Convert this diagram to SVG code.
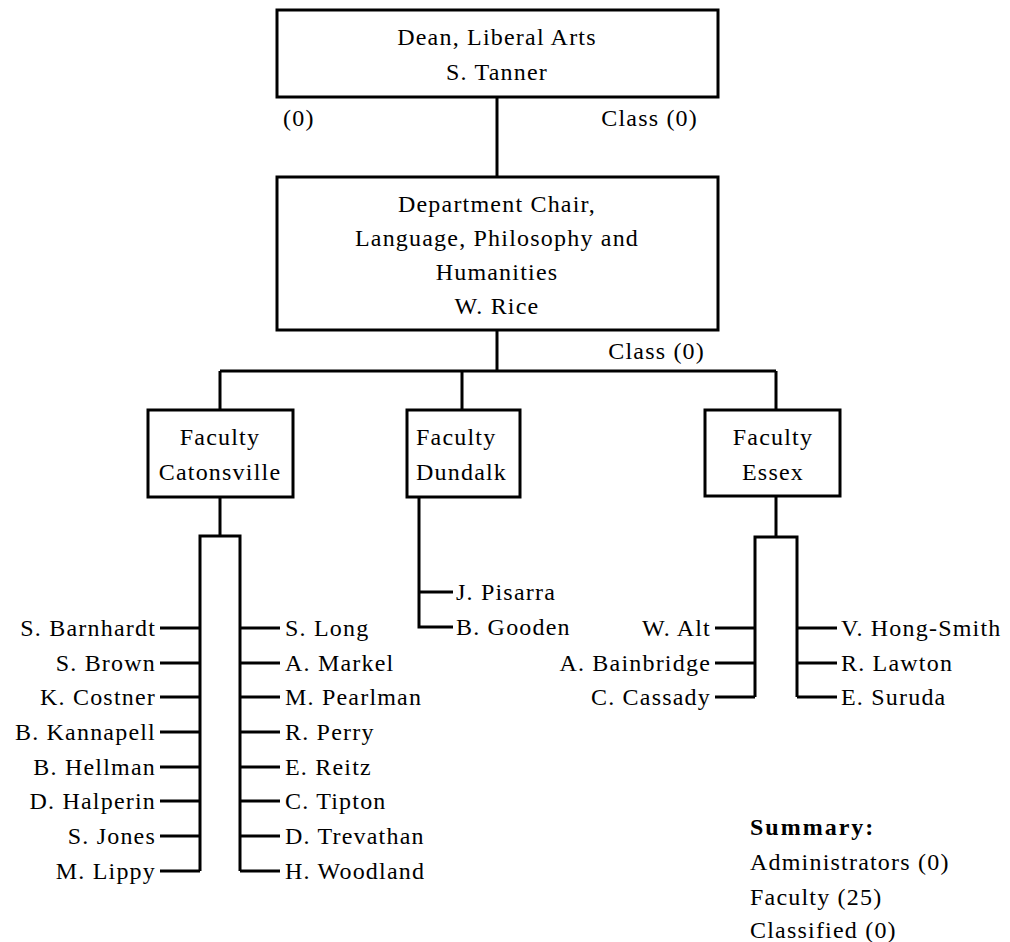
<svg xmlns="http://www.w3.org/2000/svg" width="1010" height="942" viewBox="0 0 1010 942" font-family="Liberation Serif" font-size="24">
<style>
text{font-family:"Liberation Serif",serif;font-size:24px;letter-spacing:1.2px;fill:#000}
.c{text-anchor:middle}
.r{text-anchor:end}
.box{fill:#fff;stroke:#000;stroke-width:3}
.ln{fill:none;stroke:#000;stroke-width:3}
.b{font-weight:bold;letter-spacing:2px}
</style>
<rect width="1010" height="942" fill="#fff"/>
<g id="connectors">
<path class="ln" d="M497,97V177"/>
<path class="ln" d="M497,330V371M220,371H776M220,371V410M462,371V410M776,371V410"/>
<path class="ln" d="M220,497V536M200,871V536H240V871"/>
<path class="ln" d="M160,628H200M160,663H200M160,697H200M160,732H200M160,767H200M160,801H200M160,836H200M160,871H200"/>
<path class="ln" d="M240,628H280M240,663H280M240,697H280M240,732H280M240,767H280M240,801H280M240,836H280M240,871H280"/>
<path class="ln" d="M419,497V627H453M419,592H453"/>
<path class="ln" d="M776,496V537M755,697V537H797V697"/>
<path class="ln" d="M715,628H755M715,663H755M715,697H755M797,628H837M797,663H837M797,697H837"/>
</g>
<g id="dean">
<rect class="box" x="277" y="10" width="441" height="87"/>
<text class="c" x="497" y="45">Dean, Liberal Arts</text>
<text class="c" x="497" y="80">S. Tanner</text>
<text x="283" y="126">(0)</text>
<text class="r" x="698" y="126">Class (0)</text>
</g>
<g id="chair">
<rect class="box" x="277" y="177" width="441" height="153"/>
<text class="c" x="497" y="212">Department Chair,</text>
<text class="c" x="497" y="246">Language, Philosophy and</text>
<text class="c" x="497" y="280">Humanities</text>
<text class="c" x="497" y="314">W. Rice</text>
<text class="r" x="705" y="359">Class (0)</text>
</g>
<g id="catonsville">
<rect class="box" x="148" y="410" width="145" height="87"/>
<text class="c" x="220" y="445">Faculty</text>
<text class="c" x="220" y="480">Catonsville</text>
</g>
<g id="dundalk">
<rect class="box" x="407" y="410" width="113" height="87"/>
<text x="416" y="445">Faculty</text>
<text x="416" y="480">Dundalk</text>
</g>
<g id="essex">
<rect class="box" x="705" y="410" width="135" height="86"/>
<text class="c" x="773" y="445">Faculty</text>
<text class="c" x="773" y="480">Essex</text>
</g>
<g id="catonsville-staff">
<text class="r" x="156" y="636">S. Barnhardt</text>
<text class="r" x="156" y="671">S. Brown</text>
<text class="r" x="156" y="705">K. Costner</text>
<text class="r" x="156" y="740">B. Kannapell</text>
<text class="r" x="156" y="775">B. Hellman</text>
<text class="r" x="156" y="809">D. Halperin</text>
<text class="r" x="156" y="844">S. Jones</text>
<text class="r" x="156" y="879">M. Lippy</text>
<text x="285" y="636">S. Long</text>
<text x="285" y="671">A. Markel</text>
<text x="285" y="705">M. Pearlman</text>
<text x="285" y="740">R. Perry</text>
<text x="285" y="775">E. Reitz</text>
<text x="285" y="809">C. Tipton</text>
<text x="285" y="844">D. Trevathan</text>
<text x="285" y="879">H. Woodland</text>
</g>
<g id="dundalk-staff">
<text x="456" y="600">J. Pisarra</text>
<text x="456" y="635">B. Gooden</text>
</g>
<g id="essex-staff">
<text class="r" x="711" y="636">W. Alt</text>
<text class="r" x="711" y="671">A. Bainbridge</text>
<text class="r" x="711" y="705">C. Cassady</text>
<text x="841" y="636">V. Hong-Smith</text>
<text x="841" y="671">R. Lawton</text>
<text x="841" y="705">E. Suruda</text>
</g>
<g id="summary">
<text class="b" x="750" y="835">Summary:</text>
<text x="750" y="870">Administrators (0)</text>
<text x="750" y="905">Faculty (25)</text>
<text x="750" y="938">Classified (0)</text>
</g>
</svg>
